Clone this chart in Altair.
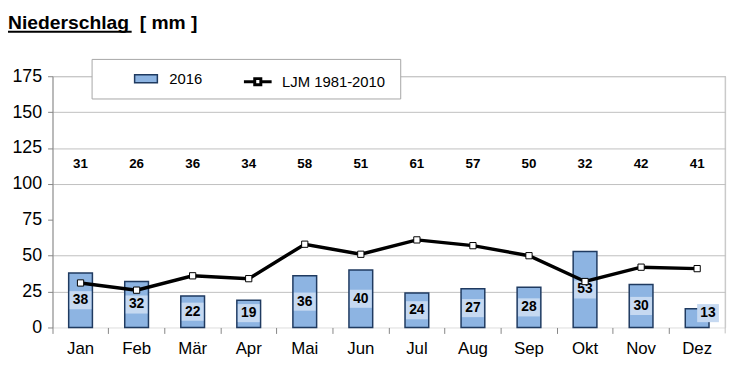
import altair as alt
import pandas as pd

months = ["Jan", "Feb", "Mär", "Apr", "Mai", "Jun", "Jul", "Aug", "Sep", "Okt", "Nov", "Dez"]
rain_2016 = [38, 32, 22, 19, 36, 40, 24, 27, 28, 53, 30, 13]
ljm_1981_2010 = [31, 26, 36, 34, 58, 51, 61, 57, 50, 32, 42, 41]
y_ticks = [0, 25, 50, 75, 100, 125, 150, 175]
series_bar = "2016"
series_line = "LJM 1981-2010"
title_main = "Niederschlag"
title_unit = "[ mm ]"

df = pd.DataFrame({
    "month": months,
    "p2016": rain_2016,
    "ljm": ljm_1981_2010,
    "s_bar": [series_bar] * len(months),
    "s_line": [series_line] * len(months),
})
one = pd.DataFrame({"a": [0]})

W, H = 680, 254
FONT = "Liberation Sans"
BAR_FILL = "#8DB4E2"
BAR_STROKE = "#1F3A60"
LABEL_BG = "#C6D9F1"
GRID = "#BFBFBF"
AXIS = "#868686"

x_axis = alt.Axis(
    labelFontSize=17, labelFont=FONT, labelColor="black", labelAngle=0,
    labelPadding=7, tickSize=6, tickColor=AXIS, bandPosition=0,
    domain=False, grid=False, labelOverlap=False,
)
x_scale = alt.Scale(paddingInner=0, paddingOuter=0)
y_scale = alt.Scale(domain=[0, 175], nice=False)
y_axis = alt.Axis(
    values=y_ticks, title=None, labelFontSize=18, labelFont=FONT, labelColor="black",
    labelPadding=6, tickSize=5, tickColor=AXIS, domainColor=AXIS, labelOverlap=False,
    gridColor={"condition": {"test": "datum.value === 75 || datum.value === 0", "value": "transparent"}, "value": GRID},
)


def X():
    return alt.X("month:N", sort=months, title=None, scale=x_scale, axis=x_axis)


def Y(field):
    return alt.Y(field, title=None, scale=y_scale, axis=y_axis)


base = alt.Chart(df)

legend_box = alt.Chart(one).mark_rect(fill="white", stroke="#A6A6A6", strokeWidth=1).encode(
    x=alt.value(40), x2=alt.value(352), y=alt.value(-17), y2=alt.value(23)
)

bars = base.mark_bar(size=24, stroke=BAR_STROKE, strokeWidth=1.5).encode(
    x=X(),
    y=Y("p2016:Q"),
    fill=alt.Fill("s_bar:N", scale=alt.Scale(domain=[series_bar], range=[BAR_FILL]),
                  legend=alt.Legend(orient="none", legendX=82, legendY=-10, title=None,
                                    symbolType="M-1,-0.35H1V0.35H-1Z", symbolSize=529,
                                    symbolStrokeColor=BAR_STROKE, symbolStrokeWidth=1.5,
                                    labelFontSize=15, labelFont=FONT, labelColor="black",
                                    labelOffset=11)),
)


def label_layers(cond, dx):
    d = base.transform_filter(cond).transform_calculate(
        c="max(datum.p2016 / 2, 10)"
    ).transform_calculate(lo="datum.c - 6.3", hi="datum.c + 6.3")
    bg = d.mark_bar(size=22, fill=LABEL_BG, xOffset=dx).encode(
        x=X(), y=Y("lo:Q"), y2="hi:Q"
    )
    tx = d.mark_text(fontSize=14, fontWeight="bold", font=FONT, color="black",
                     baseline="middle", dx=dx).encode(
        x=X(), y=Y("c:Q"), text="p2016:Q"
    )
    return [bg, tx]


lab_main = label_layers("datum.month != 'Dez'", 0)
lab_dez = label_layers("datum.month == 'Dez'", 11)

line = base.mark_line(strokeWidth=3.5).encode(
    x=X(),
    y=Y("ljm:Q"),
    stroke=alt.Stroke("s_line:N", scale=alt.Scale(domain=[series_line], range=["black"]),
                      legend=alt.Legend(orient="none", legendX=192, legendY=-10, title=None,
                                        symbolType="M-1,0H-0.22M0.22,0H1M-0.22,-0.22H0.22V0.22H-0.22Z",
                                        symbolSize=784, symbolFillColor="white",
                                        symbolStrokeColor="black", symbolStrokeWidth=3,
                                        labelFontSize=15, labelFont=FONT, labelColor="black",
                                        labelOffset=9)),
)
points = base.mark_point(shape="square", filled=True, fill="white", stroke="black",
                         strokeWidth=1, size=40, opacity=1).encode(
    x=X(), y=Y("ljm:Q")
)

top_labels = base.mark_text(fontSize=13.5, fontWeight="bold", font=FONT, color="black",
                            baseline="middle").encode(
    x=X(), y=alt.value(89), text="ljm:Q"
)

right_border = alt.Chart(one).mark_rule(color=GRID, strokeWidth=1).encode(
    x=alt.value(W), y=alt.value(0), y2=alt.value(H + 6)
)

title_text = alt.Chart(one).mark_text(
    fontSize=19.5, fontWeight="bold", font=FONT, color="black", align="left", baseline="alphabetic"
).encode(x=alt.value(-45), y=alt.value(-48), text=alt.value(title_main + "\u00a0\u00a0" + title_unit))
underline = alt.Chart(one).mark_rule(color="black", strokeWidth=2).encode(
    x=alt.value(-45), x2=alt.value(80), y=alt.value(-45)
)

chart = alt.layer(
    bars, right_border, *lab_main, *lab_dez, line, points, top_labels, legend_box,
    title_text, underline
).resolve_legend(fill="independent", stroke="independent").properties(
    width=W, height=H, autosize=alt.AutoSizeParams(type="none"),
    padding={"left": 45, "top": 67, "right": 16, "bottom": 40},
).configure_view(stroke=None).configure(background="white")

chart.save("out.html", embed_options={"renderer": "svg", "actions": False})
